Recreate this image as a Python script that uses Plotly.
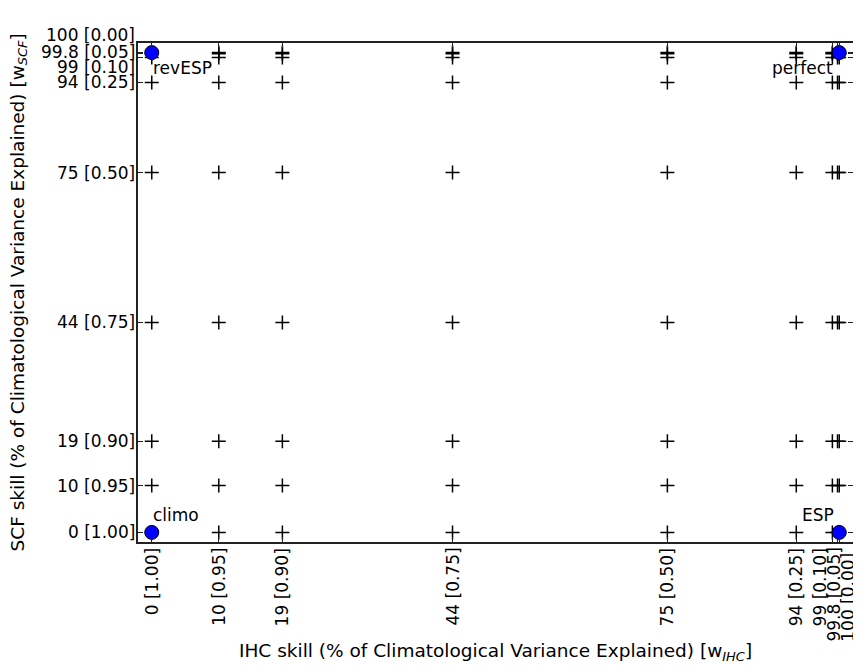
import plotly.graph_objects as go

# ---- data ----
ihc_skill = [0, 9.75, 19, 43.75, 75, 93.75, 99, 99.75, 100]
scf_skill = [0, 9.75, 19, 43.75, 75, 93.75, 99, 99.75, 100]
ihc_tick_labels = ["0 [1.00]", "10 [0.95]", "19 [0.90]", "44 [0.75]", "75 [0.50]",
                   "94 [0.25]", "99 [0.10]", "99.8 [0.05]", "100 [0.00]"]
scf_tick_labels = ["0 [1.00]", "10 [0.95]", "19 [0.90]", "44 [0.75]", "75 [0.50]",
                   "94 [0.25]", "99 [0.10]", "99.8 [0.05]", "100 [0.00]"]
corner_names = ["climo", "ESP", "revESP", "perfect"]
corner_ihc = [0, 100, 0, 100]
corner_scf = [0, 0, 100, 100]

# label nudges (pixels) to avoid overlapping tick labels
x_label_xshift = [0, 0, 0, 0, 0, 0, -12, -4, 8]
x_label_yshift = [0, 0, 0, 0, 0, 0, 0, 0, -5]
y_label_yshift = [0, 0, 0, 0, 0, 1, -10, 2, 18]

FONT = "DejaVu Sans"
FS = 17
FS_TITLE = 18.5

grid_x = [x for y in scf_skill for x in ihc_skill]
grid_y = [y for y in scf_skill for x in ihc_skill]

fig = go.Figure()
fig.add_trace(go.Scatter(
    x=grid_x, y=grid_y, mode="markers",
    marker=dict(symbol="cross-thin-open", size=10, color="black",
                line=dict(width=1.5, color="black")),
    showlegend=False, hoverinfo="skip"))
fig.add_trace(go.Scatter(
    x=corner_ihc, y=corner_scf, mode="markers",
    marker=dict(symbol="circle", size=14, color="#0000ff",
                line=dict(width=1, color="black")),
    showlegend=False))

annotations = []
# x tick labels
for i, (v, t) in enumerate(zip(ihc_skill, ihc_tick_labels)):
    annotations.append(dict(x=v, y=0, xref="x", yref="paper", text=t, textangle=-90,
                            showarrow=False, xanchor="center", yanchor="top",
                            xshift=x_label_xshift[i], yshift=-4 + x_label_yshift[i],
                            font=dict(family=FONT, size=FS, color="black")))
# y tick labels
for i, (v, t) in enumerate(zip(scf_skill, scf_tick_labels)):
    annotations.append(dict(x=0, y=v, xref="paper", yref="y", text=t,
                            showarrow=False, xanchor="right", yanchor="middle",
                            xshift=-1, yshift=y_label_yshift[i],
                            font=dict(family=FONT, size=FS, color="black")))
# corner labels
corner_style = {
    "climo": dict(xanchor="left", yanchor="bottom", xshift=-1, yshift=5),
    "ESP": dict(xanchor="right", yanchor="bottom", xshift=-3, yshift=5),
    "revESP": dict(xanchor="left", yanchor="top", xshift=-1, yshift=-3),
    "perfect": dict(xanchor="right", yanchor="top", xshift=-4, yshift=-3),
}
for name, cx, cy in zip(corner_names, corner_ihc, corner_scf):
    annotations.append(dict(x=cx, y=cy, xref="x", yref="y", text=name, showarrow=False,
                            font=dict(family=FONT, size=FS, color="black"),
                            **corner_style[name]))
# axis titles
annotations.append(dict(x=0.5, y=0, xref="paper", yref="paper",
                        text="IHC skill (% of Climatological Variance Explained) [w<sub><i>IHC</i></sub>]",
                        showarrow=False, xanchor="center", yanchor="middle", yshift=-110,
                        font=dict(family=FONT, size=FS_TITLE, color="black")))
annotations.append(dict(x=0, y=0.5, xref="paper", yref="paper",
                        text="SCF skill (% of Climatological Variance Explained) [w<sub><i>SCF</i></sub>]",
                        showarrow=False, xanchor="center", yanchor="middle", xshift=-120,
                        textangle=-90,
                        font=dict(family=FONT, size=FS_TITLE, color="black")))

axis_common = dict(range=[-2, 102], showgrid=False, zeroline=False,
                   showline=True, linecolor="#222", linewidth=1.5, mirror="ticks",
                   ticks="inside", ticklen=5, tickwidth=1, tickcolor="#222",
                   showticklabels=False, automargin=False)

fig.update_layout(
    width=861, height=668,
    margin=dict(l=130, r=16, t=35, b=134),
    plot_bgcolor="white", paper_bgcolor="white",
    xaxis=dict(tickvals=ihc_skill, **axis_common),
    yaxis=dict(tickvals=scf_skill, **axis_common),
    annotations=annotations,
    font=dict(family=FONT, size=FS, color="black"),
)

fig.write_html("out.html")
